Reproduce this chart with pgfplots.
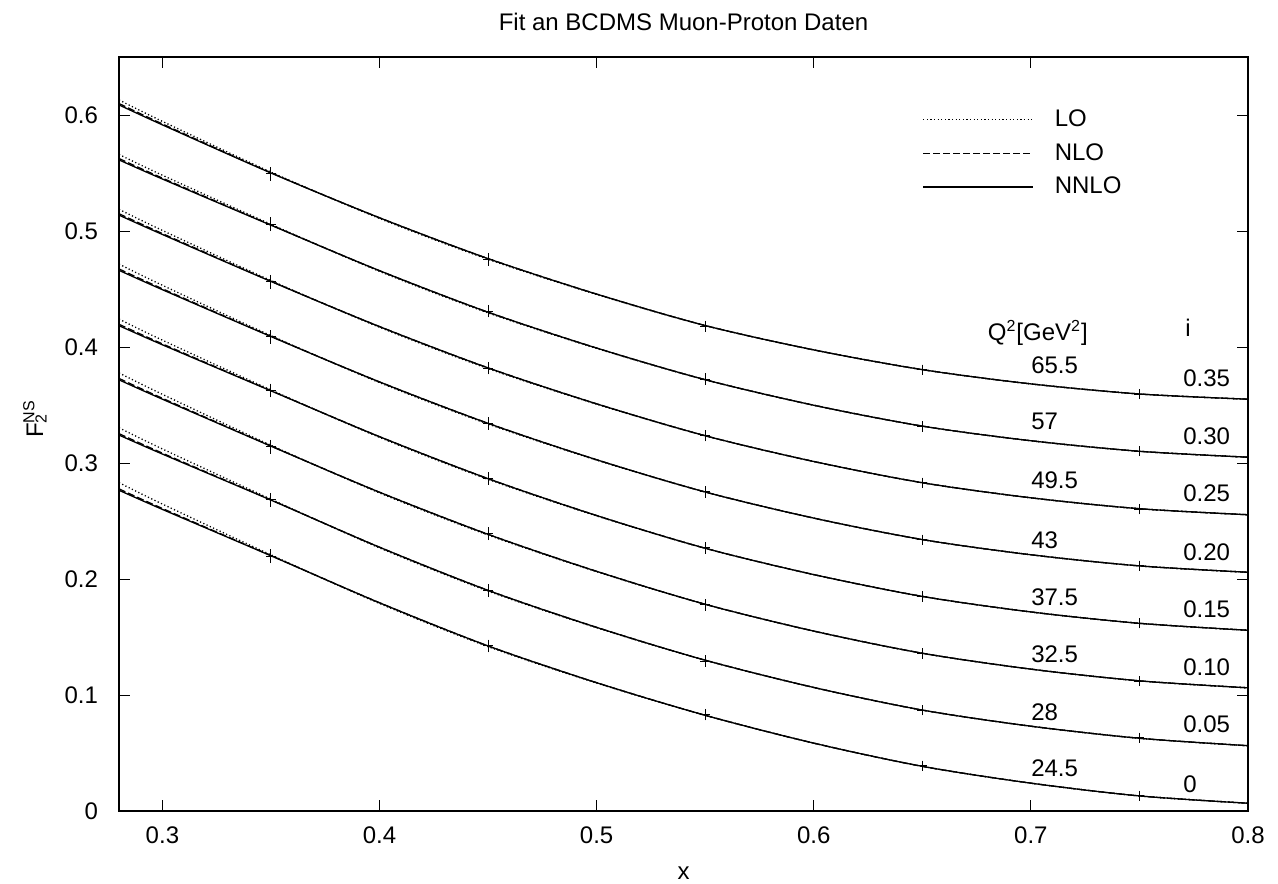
\documentclass[border=0pt]{standalone}
\usepackage{fontspec}
\setmainfont{Liberation Sans}
\usepackage{pgfplots}
\usepackage{pgfplotstable}
\pgfplotsset{compat=1.18}

% NNLO fit curves, offset i already added (c0 = 24.5 GeV^2 ... c7 = 65.5 GeV^2)
\pgfplotstableread{
x     c0     c1     c2     c3     c4     c5     c6     c7
0.28  0.2765 0.3241 0.3717 0.4184 0.4661 0.5137 0.5613 0.6087
0.30  0.2600 0.3077 0.3550 0.4019 0.4494 0.4970 0.5448 0.5915
0.35  0.2200 0.2680 0.3145 0.3622 0.4090 0.4565 0.5050 0.5500
0.40  0.1795 0.2274 0.2748 0.3227 0.3699 0.4176 0.4658 0.5114
0.45  0.1423 0.1902 0.2385 0.2865 0.3342 0.3820 0.4300 0.4762
0.50  0.1106 0.1583 0.2066 0.2547 0.3028 0.3510 0.3991 0.4456
0.55  0.0825 0.1300 0.1782 0.2265 0.2750 0.3235 0.3718 0.4185
0.60  0.0585 0.1065 0.1551 0.2038 0.2525 0.3013 0.3498 0.3975
0.65  0.0385 0.0870 0.1360 0.1850 0.2340 0.2830 0.3318 0.3805
0.70  0.0240 0.0731 0.1223 0.1716 0.2209 0.2700 0.3192 0.3682
0.75  0.0130 0.0627 0.1122 0.1618 0.2113 0.2606 0.3101 0.3595
0.80  0.0067 0.0563 0.1062 0.1558 0.2058 0.2554 0.3050 0.3550
}\nnlo

\pgfplotstableread{
x     c0     c1     c2     c3     c4     c5     c6     c7
0.28  0.2777 0.3253 0.3729 0.4196 0.4673 0.5149 0.5625 0.6099
0.30  0.2608 0.3085 0.3558 0.4027 0.4502 0.4978 0.5456 0.5923
0.35  0.2202 0.2682 0.3147 0.3624 0.4092 0.4567 0.5052 0.5502
0.40  0.1795 0.2274 0.2748 0.3227 0.3699 0.4176 0.4658 0.5114
0.45  0.1423 0.1902 0.2385 0.2865 0.3342 0.3820 0.4300 0.4762
0.50  0.1106 0.1583 0.2066 0.2547 0.3028 0.3510 0.3991 0.4456
0.55  0.0825 0.1300 0.1782 0.2265 0.2750 0.3235 0.3718 0.4185
0.60  0.0585 0.1065 0.1551 0.2038 0.2525 0.3013 0.3498 0.3975
0.65  0.0385 0.0870 0.1360 0.1850 0.2340 0.2830 0.3318 0.3805
0.70  0.0240 0.0731 0.1223 0.1716 0.2209 0.2700 0.3192 0.3682
0.75  0.0130 0.0627 0.1122 0.1618 0.2113 0.2606 0.3101 0.3595
0.80  0.0067 0.0563 0.1062 0.1558 0.2058 0.2554 0.3050 0.3550
}\nlo

\pgfplotstableread{
x     c0     c1     c2     c3     c4     c5     c6     c7
0.28  0.2831 0.3304 0.3777 0.4241 0.4715 0.5187 0.5660 0.6130
0.30  0.2646 0.3121 0.3592 0.4059 0.4532 0.5005 0.5481 0.5945
0.35  0.2208 0.2688 0.3153 0.3630 0.4098 0.4573 0.5058 0.5508
0.40  0.1789 0.2268 0.2742 0.3221 0.3693 0.4170 0.4652 0.5108
0.45  0.1417 0.1896 0.2379 0.2859 0.3336 0.3814 0.4294 0.4756
0.50  0.1103 0.1580 0.2063 0.2544 0.3025 0.3507 0.3988 0.4453
0.55  0.0825 0.1300 0.1782 0.2265 0.2750 0.3235 0.3718 0.4185
0.60  0.0585 0.1065 0.1551 0.2038 0.2525 0.3013 0.3498 0.3975
0.65  0.0385 0.0870 0.1360 0.1850 0.2340 0.2830 0.3318 0.3805
0.70  0.0240 0.0731 0.1223 0.1716 0.2209 0.2700 0.3192 0.3682
0.75  0.0130 0.0627 0.1122 0.1618 0.2113 0.2606 0.3101 0.3595
0.80  0.0067 0.0563 0.1062 0.1558 0.2058 0.2554 0.3050 0.3550
}\lo

% BCDMS data points (with offset i)
\pgfplotstableread{
x     y      e
0.35  0.2197 0.0025
0.35  0.2684 0.0025
0.35  0.3140 0.0025
0.35  0.3625 0.0025
0.35  0.4087 0.0025
0.35  0.4563 0.0025
0.35  0.5059 0.0025
0.35  0.5492 0.0025
0.45  0.1423 0.0020
0.45  0.1899 0.0020
0.45  0.2390 0.0020
0.45  0.2866 0.0020
0.45  0.3342 0.0020
0.45  0.3818 0.0020
0.45  0.4309 0.0020
0.45  0.4756 0.0020
0.55  0.0831 0.0015
0.55  0.1293 0.0015
0.55  0.1777 0.0015
0.55  0.2268 0.0015
0.55  0.2751 0.0015
0.55  0.3235 0.0015
0.55  0.3723 0.0015
0.55  0.4179 0.0015
0.65  0.0390 0.0010
0.65  0.0868 0.0010
0.65  0.1359 0.0010
0.65  0.1850 0.0010
0.65  0.2338 0.0010
0.65  0.2829 0.0010
0.65  0.3314 0.0010
0.65  0.3804 0.0010
0.75  0.0130 0.0008
0.75  0.0630 0.0008
0.75  0.1120 0.0008
0.75  0.1617 0.0008
0.75  0.2115 0.0008
0.75  0.2600 0.0008
0.75  0.3102 0.0008
0.75  0.3593 0.0008
}\pts

\pgfplotsset{
  fitlo/.style={black, line width=0.65pt, dash pattern=on 0.6pt off 1.2pt},
  fitnlo/.style={black, line width=0.65pt, dash pattern=on 3.5pt off 1.5pt},
  fitnnlo/.style={black, line width=0.65pt},
}

\begin{document}
\begin{tikzpicture}[font=\fontsize{12pt}{14pt}\selectfont]
\useasboundingbox (-59.5pt,-36pt) rectangle (579.5pt,405.5pt);
\begin{axis}[
    name=ax,
    at={(0pt,0pt)}, anchor=south west,
    scale only axis,
    width=564.5pt, height=377pt,
    xmin=0.28, xmax=0.8,
    ymin=0, ymax=0.65,
    xtick={0.3,0.4,0.5,0.6,0.7,0.8},
    ytick={0,0.1,0.2,0.3,0.4,0.5,0.6},
    tick pos=both,
    tick align=inside,
    major tick length=5.7pt,
    axis line style={line width=0.6pt},
    tick style={line width=0.5pt, black},
    /pgf/number format/assume math mode=true,
    xticklabel style={yshift=-4.5pt},
    yticklabel style={xshift=-7pt},
    xlabel={x},
    xlabel style={at={(axis description cs:0.5,0)}, anchor=center, yshift=-31pt, inner sep=0pt},
    legend style={at={(axis cs:0.6499,0.5671)}, anchor=west, draw=none, fill=none,
      inner sep=0pt, row sep=7pt, column sep=10.5pt, nodes={inner sep=0pt}},
    legend cell align=left,
    legend image code/.code={\draw[#1] (0pt,0pt) -- (55pt,0pt);},
  ]
  \pgfplotsinvokeforeach{0,...,7}{
    \addplot[fitlo, smooth, forget plot] table[x=x, y=c#1]{\lo};
    \addplot[fitnlo, smooth, forget plot] table[x=x, y=c#1]{\nlo};
    \addplot[fitnnlo, smooth, forget plot] table[x=x, y=c#1]{\nnlo};
  }
  \addplot[black, only marks, mark=+, mark size=2.5pt, line width=0.5pt, forget plot,
    error bars/.cd, y dir=both, y explicit,
    error bar style={line width=0.5pt},
    error mark options={line width=0.5pt, mark size=2pt}]
    table[x=x, y=y, y error=e]{\pts};

  \addlegendimage{fitlo}
  \addlegendentry{LO}
  \addlegendimage{fitnlo}
  \addlegendentry{NLO}
  \addlegendimage{fitnnlo}
  \addlegendentry{NNLO}

  \node[anchor=base west, inner sep=0pt] at (axis cs:0.680,0.406) {Q\textsuperscript{2}[GeV\textsuperscript{2}]};
  \node[anchor=base west, inner sep=0pt] at (axis cs:0.771,0.409) {i};

  \node[anchor=west, inner sep=0pt] at (axis cs:0.700,0.3847) {65.5};
  \node[anchor=west, inner sep=0pt] at (axis cs:0.700,0.3355) {57};
  \node[anchor=west, inner sep=0pt] at (axis cs:0.700,0.2848) {49.5};
  \node[anchor=west, inner sep=0pt] at (axis cs:0.700,0.2335) {43};
  \node[anchor=west, inner sep=0pt] at (axis cs:0.700,0.1844) {37.5};
  \node[anchor=west, inner sep=0pt] at (axis cs:0.700,0.1351) {32.5};
  \node[anchor=west, inner sep=0pt] at (axis cs:0.700,0.0849) {28};
  \node[anchor=west, inner sep=0pt] at (axis cs:0.700,0.0372) {24.5};

  \node[anchor=west, inner sep=0pt] at (axis cs:0.770,0.3732) {0.35};
  \node[anchor=west, inner sep=0pt] at (axis cs:0.770,0.3229) {0.30};
  \node[anchor=west, inner sep=0pt] at (axis cs:0.770,0.2736) {0.25};
  \node[anchor=west, inner sep=0pt] at (axis cs:0.770,0.2234) {0.20};
  \node[anchor=west, inner sep=0pt] at (axis cs:0.770,0.1740) {0.15};
  \node[anchor=west, inner sep=0pt] at (axis cs:0.770,0.1238) {0.10};
  \node[anchor=west, inner sep=0pt] at (axis cs:0.770,0.0745) {0.05};
  \node[anchor=west, inner sep=0pt] at (axis cs:0.770,0.0235) {0};
\end{axis}
% title and y label, outside the clipped axis area
\node[anchor=center, inner sep=0pt, yshift=17.5pt] at (ax.north) {Fit an BCDMS Muon-Proton Daten};
\node[anchor=center, inner sep=0pt, rotate=90, xshift=7.5pt] at ([xshift=-42pt]ax.west) {F\rlap{\textsubscript{2}}\textsuperscript{NS}};
\end{tikzpicture}
\end{document}
